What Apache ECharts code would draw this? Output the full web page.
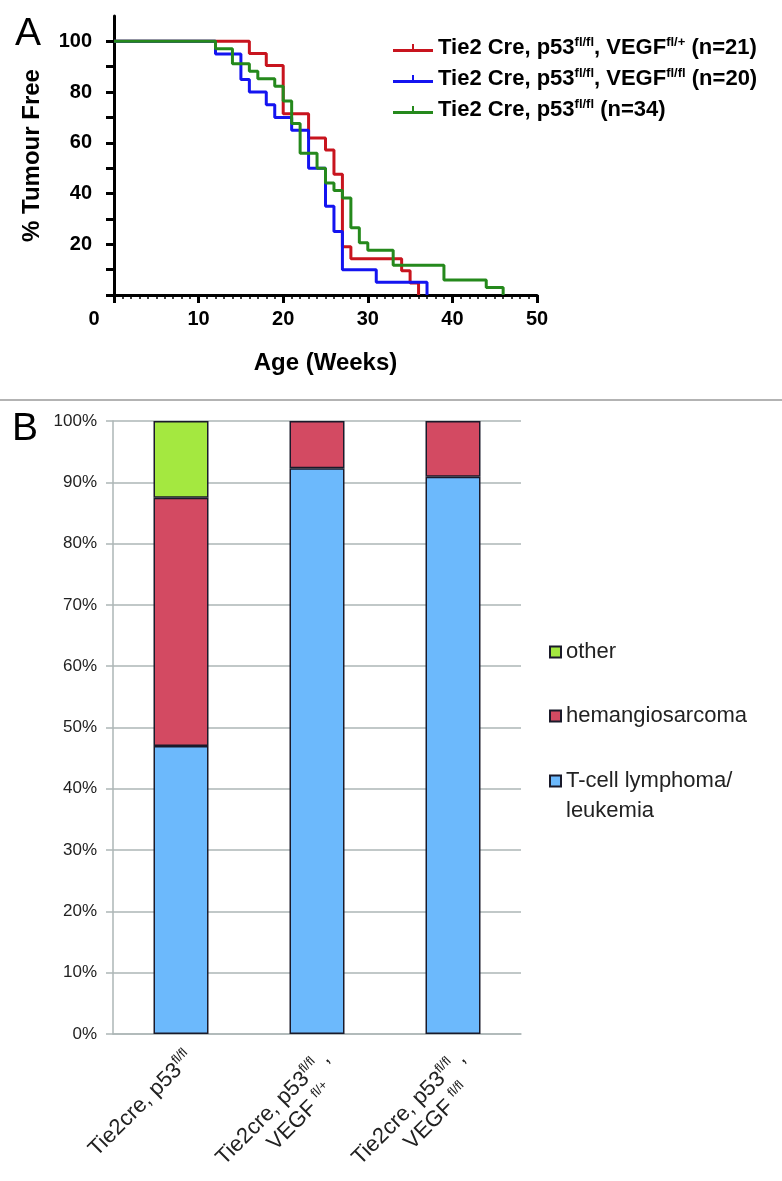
<!DOCTYPE html>
<html><head><meta charset="utf-8">
<script src="https://cdn.jsdelivr.net/npm/echarts@6/dist/echarts.min.js"></script>
<style>html,body{margin:0;padding:0;background:#fff}#c{width:782px;height:1181px}</style>
</head><body><div id="c"></div>
<script>
// ---------- Panel A: Kaplan-Meier steps (week of event, % tumour free after it) ----------
const redWeeks   = [0, 16, 18, 20, 23, 25, 26, 27, 28, 34, 35, 36];
const redSurv    = [100, 95.24, 90.48, 71.43, 61.90, 57.14, 47.62, 19.05, 14.29, 9.52, 4.76, 0];
const blueWeeks  = [0, 12, 15, 16, 18, 19, 21, 23, 25, 26, 27, 31, 37];
const blueSurv   = [100, 95, 85, 80, 75, 70, 65, 50, 35, 25, 10, 5, 0];
const greenWeeks = [0, 12, 14, 16, 17, 19, 20, 21, 22, 24, 25, 26, 27, 28, 29, 30, 33, 39, 44, 46];
const greenSurv  = [100, 97.06, 91.18, 88.24, 85.29, 82.35, 76.47, 67.65, 55.88, 50, 44.12, 41.18, 38.24, 26.47, 20.59, 17.65, 11.76, 5.88, 2.94, 0];
const seriesNamesA = ['Tie2 Cre, p53fl/fl, VEGFfl/+ (n=21)', 'Tie2 Cre, p53fl/fl, VEGFfl/fl (n=20)', 'Tie2 Cre, p53fl/fl (n=34)'];
const legendRichA  = ['Tie2 Cre, p53{s|fl/fl}, VEGF{s|fl/+} (n=21)', 'Tie2 Cre, p53{s|fl/fl}, VEGF{s|fl/fl} (n=20)', 'Tie2 Cre, p53{s|fl/fl} (n=34)'];
const yTicksA  = [0, 10, 20, 30, 40, 50, 60, 70, 80, 90, 100];
const yLabelsA = [20, 40, 60, 80, 100];

// ---------- Panel B: tumour type fractions (%) ----------
const categoriesB = ['Tie2cre, p53fl/fl', 'Tie2cre, p53fl/fl, VEGFfl/+', 'Tie2cre, p53fl/fl, VEGFfl/fl'];
const categoryRichB = ['Tie2cre, p53{s|fl/fl}', 'Tie2cre, p53{s|fl/fl} ,\nVEGF {s|fl/+}{p|}', 'Tie2cre, p53{s|fl/fl} ,\nVEGF {s|fl/fl}{p|}'];
const tcell  = [47, 92.3, 90.9];
const hemang = [40.5, 7.7, 9.1];
const other  = [12.5, null, null];
const namesB = ['T-cell lymphoma/ leukemia', 'hemangiosarcoma', 'other'];

const FF = '"Liberation Sans", Arial, Helvetica, sans-serif';
const pairs = (xs, ys) => xs.map((x, i) => [x, ys[i]]);
const iconA = 'path://M0,5H40V8H0Z M19,0H21V5H19Z';
const gridGray = '#adb6b6';

const chart = echarts.init(document.getElementById('c'), null, {renderer: 'canvas'});
chart.setOption({
  animation: false,
  backgroundColor: '#fff',
  title: [
    {text: 'A', left: 15, top: 15, padding: 0, textStyle: {fontFamily: FF, fontSize: 39, fontWeight: 'normal', color: '#000'}},
    {text: 'B', left: 12, top: 410, padding: 0, textStyle: {fontFamily: FF, fontSize: 39, fontWeight: 'normal', color: '#000'}}
  ],
  graphic: [{type: 'line', shape: {x1: 0, y1: 400, x2: 782, y2: 400}, style: {stroke: '#9a9a9a', lineWidth: 1.5}}],
  grid: [
    {left: 114, right: 245, top: 16, bottom: 886, outerBoundsMode: 'none', containLabel: false},
    {left: 113, right: 261, top: 421, bottom: 147, outerBoundsMode: 'none', containLabel: false}
  ],
  legend: [
    {
      left: 393, top: 36, orient: 'vertical', padding: 0,
      itemWidth: 40, itemHeight: 8, itemGap: 7, selectedMode: false,
      data: seriesNamesA.map(n => ({name: n, icon: iconA})),
      formatter: n => legendRichA[seriesNamesA.indexOf(n)],
      textStyle: {fontFamily: FF, fontSize: 22, fontWeight: 'bold', color: '#000', lineHeight: 24,
        rich: {s: {fontFamily: FF, fontSize: 13, fontWeight: 'bold', color: '#000', verticalAlign: 'top'}}}
    },
    {left: 549, top: 637, padding: 0, itemWidth: 11, itemHeight: 11, selectedMode: false,
     data: [{name: 'other', icon: 'rect'}],
     textStyle: {fontFamily: FF, fontSize: 22, color: '#222', lineHeight: 30}},
    {left: 549, top: 701, padding: 0, itemWidth: 11, itemHeight: 11, selectedMode: false,
     data: [{name: 'hemangiosarcoma', icon: 'rect'}],
     textStyle: {fontFamily: FF, fontSize: 22, color: '#222', lineHeight: 30}},
    {left: 549, top: 736, padding: 0, itemWidth: 11, itemHeight: 11, selectedMode: false,
     data: [{name: 'T-cell lymphoma/ leukemia', icon: 'rect'}],
     formatter: n => '\n' + n.replace('/ ', '/\n'),
     textStyle: {fontFamily: FF, fontSize: 22, color: '#222', lineHeight: 30}}
  ],
  xAxis: [
    {
      gridIndex: 0, type: 'value', min: 0, max: 50, interval: 10,
      name: 'Age (Weeks)', nameLocation: 'middle', nameGap: 56,
      nameTextStyle: {fontFamily: FF, fontSize: 24, fontWeight: 'bold', color: '#000'},
      axisLine: {show: true, lineStyle: {color: '#000', width: 3}},
      axisTick: {show: true, length: 8, lineStyle: {color: '#000', width: 3}},
      minorTick: {show: true, splitNumber: 10, length: 4, lineStyle: {color: '#000', width: 1.5}},
      splitLine: {show: false},
      axisLabel: {
        margin: 14, fontFamily: FF, fontSize: 20, fontWeight: 'bold', color: '#000',
        formatter: v => v === 0 ? '{z|0}' : String(v),
        rich: {z: {fontFamily: FF, fontSize: 20, fontWeight: 'bold', color: '#000', padding: [0, 40, 0, 0]}}
      }
    },
    {
      gridIndex: 1, type: 'category', data: categoriesB,
      axisLine: {show: true, lineStyle: {color: gridGray, width: 1.5}},
      axisTick: {show: false},
      axisLabel: {
        interval: 0, rotate: 45, margin: 12, verticalAlign: 'top',
        fontFamily: FF, fontSize: 22, color: '#222', lineHeight: 26,
        formatter: v => categoryRichB[categoriesB.indexOf(v)],
        rich: {
          s: {fontFamily: FF, fontSize: 13, color: '#222', verticalAlign: 'top'},
          p: {width: 20}
        }
      }
    }
  ],
  yAxis: [
    {
      gridIndex: 0, type: 'value', min: 0, max: 110, interval: 10,
      name: '% Tumour Free', nameLocation: 'middle', nameGap: 70,
      nameTextStyle: {fontFamily: FF, fontSize: 24, fontWeight: 'bold', color: '#000'},
      axisLine: {show: true, lineStyle: {color: '#000', width: 3}},
      axisTick: {show: true, length: 8, customValues: yTicksA, lineStyle: {color: '#000', width: 3}},
      splitLine: {show: false},
      axisLabel: {margin: 22, customValues: yLabelsA, fontFamily: FF, fontSize: 20, fontWeight: 'bold', color: '#000'}
    },
    {
      gridIndex: 1, type: 'value', min: 0, max: 100, interval: 10,
      axisLine: {show: true, lineStyle: {color: gridGray, width: 1.5}},
      axisTick: {show: true, length: 7, lineStyle: {color: gridGray, width: 1.5}},
      splitLine: {show: true, lineStyle: {color: gridGray, width: 1.5}},
      axisLabel: {margin: 16, fontFamily: FF, fontSize: 17, color: '#222', formatter: '{value}%'}
    }
  ],
  series: [
    {name: seriesNamesA[0], type: 'line', step: 'end', xAxisIndex: 0, yAxisIndex: 0, data: pairs(redWeeks, redSurv),
     showSymbol: false, color: '#c8141e', lineStyle: {width: 3, color: '#c8141e'}},
    {name: seriesNamesA[1], type: 'line', step: 'end', xAxisIndex: 0, yAxisIndex: 0, data: pairs(blueWeeks, blueSurv),
     showSymbol: false, color: '#1414f0', lineStyle: {width: 3, color: '#1414f0'}},
    {name: seriesNamesA[2], type: 'line', step: 'end', xAxisIndex: 0, yAxisIndex: 0, data: pairs(greenWeeks, greenSurv),
     showSymbol: false, color: '#25891c', lineStyle: {width: 3, color: '#25891c'}},
    {name: namesB[0], type: 'bar', stack: 'b', xAxisIndex: 1, yAxisIndex: 1, barWidth: 55, data: tcell,
     itemStyle: {color: '#6cb9fc', borderColor: '#1a1a2a', borderWidth: 1.5}},
    {name: namesB[1], type: 'bar', stack: 'b', xAxisIndex: 1, yAxisIndex: 1, barWidth: 55, data: hemang,
     itemStyle: {color: '#d34a62', borderColor: '#1a1a2a', borderWidth: 1.5}},
    {name: namesB[2], type: 'bar', stack: 'b', xAxisIndex: 1, yAxisIndex: 1, barWidth: 55, data: other,
     itemStyle: {color: '#a4e840', borderColor: '#1a1a2a', borderWidth: 1.5}}
  ]
});
</script></body></html>
